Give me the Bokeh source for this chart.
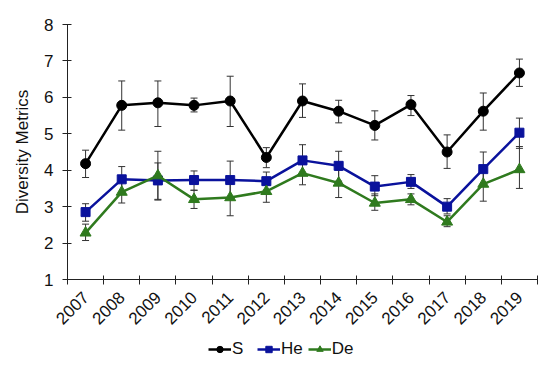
import numpy as np
from bokeh.plotting import figure
from bokeh.layouts import column
from bokeh.models import (ColumnDataSource, Whisker, TeeHead, FixedTicker, Legend,
                          LegendItem, Range1d)
from bokeh.embed import file_html
from bokeh.resources import INLINE

years = ["2007", "2008", "2009", "2010", "2011", "2012", "2013",
         "2014", "2015", "2016", "2017", "2018", "2019"]
s_vals = [4.18, 5.78, 5.85, 5.78, 5.90, 4.35, 5.90, 5.62, 5.23, 5.80, 4.50, 5.62, 6.67]
s_up = [4.55, 6.45, 6.45, 5.98, 6.58, 4.62, 6.37, 5.92, 5.63, 6.05, 4.97, 6.12, 7.05]
s_lo = [3.80, 5.10, 5.20, 5.60, 5.20, 4.07, 5.45, 5.30, 4.83, 5.50, 4.05, 5.10, 6.30]
he_vals = [2.85, 3.75, 3.72, 3.73, 3.73, 3.70, 4.27, 4.12, 3.55, 3.68, 3.00, 4.03, 5.03]
he_up = [3.08, 4.10, 4.20, 3.98, 4.25, 3.95, 4.70, 4.52, 3.85, 3.88, 3.22, 4.50, 5.43]
he_lo = [2.60, 3.40, 3.20, 3.45, 3.20, 3.45, 3.90, 3.70, 3.30, 3.50, 2.80, 3.60, 4.60]
de_vals = [2.28, 3.40, 3.85, 3.20, 3.25, 3.42, 3.92, 3.65, 3.10, 3.20, 2.58, 3.62, 4.02]
de_up = [2.52, 3.70, 4.52, 3.45, 3.70, 3.70, 4.20, 4.00, 3.35, 3.35, 2.75, 4.10, 4.65]
de_lo = [2.07, 3.10, 3.18, 2.95, 2.75, 3.12, 3.60, 3.25, 2.90, 3.05, 2.45, 3.15, 3.50]
y_ticks = [1, 2, 3, 4, 5, 6, 7, 8]

xs = [i + 0.5 for i in range(len(years))]

FONT = "Liberation Sans"

p = figure(frame_width=470, frame_height=255, output_backend="svg", toolbar_location=None,
           x_range=Range1d(0, len(years)), y_range=Range1d(1, 8),
           min_border_left=67, min_border_right=13, min_border_top=24, min_border_bottom=0)
p.outline_line_color = None
p.grid.grid_line_color = None
p.background_fill_color = "white"

# x axis: labels at category centers, ticks at boundaries
p.xaxis.ticker = FixedTicker(ticks=xs, minor_ticks=list(range(len(years) + 1)))
p.xaxis.major_label_overrides = {x: y for x, y in zip(xs, years)}
p.xaxis.major_tick_in = 0
p.xaxis.major_tick_out = 0
p.xaxis.minor_tick_in = 4
p.xaxis.minor_tick_out = 5
p.xaxis.minor_tick_line_color = "#222222"
p.xaxis.major_label_orientation = np.pi / 4
p.xaxis.major_label_standoff = 10

p.yaxis.ticker = FixedTicker(ticks=y_ticks)
p.yaxis.major_tick_in = 4
p.yaxis.major_tick_out = 5
p.yaxis.minor_tick_line_color = None
p.yaxis.major_label_standoff = 9
p.yaxis.axis_label = "Diversity Metrics"
p.yaxis.axis_label_text_font_style = "normal"
p.yaxis.axis_label_standoff = 9

for ax in (p.xaxis, p.yaxis):
    ax.axis_line_color = "#222222"
    ax.major_label_text_font = FONT
    ax.major_label_text_font_size = "17px"
    ax.major_label_text_color = "#111111"
    ax.axis_label_text_font = FONT
    ax.axis_label_text_font_size = "17px"
    ax.axis_label_text_color = "#111111"
p.xaxis.major_tick_line_color = None
p.yaxis.major_tick_line_color = "#222222"

series = [
    ("S", s_vals, s_up, s_lo, "#000000", "circle", 10),
    ("He", he_vals, he_up, he_lo, "#0a129c", "square", 9),
    ("De", de_vals, de_up, de_lo, "#2f7a1e", "triangle", 11),
]

for name, vals, up, lo, color, marker, size in series:
    src = ColumnDataSource(dict(x=xs, y=vals, upper=up, lower=lo))
    w = Whisker(base="x", upper="upper", lower="lower", source=src,
                line_color="#333333", line_width=1,
                upper_head=TeeHead(size=7, line_color="#333333", line_width=1),
                lower_head=TeeHead(size=7, line_color="#333333", line_width=1))
    p.add_layout(w)

for name, vals, up, lo, color, marker, size in series:
    src = ColumnDataSource(dict(x=xs, y=vals))
    p.line("x", "y", source=src, line_color=color, line_width=2.5)
    p.scatter("x", "y", source=src, marker=marker, size=size,
              fill_color=color, line_color=color)

# legend in a small strip below the chart (its renderers reuse the series values,
# drawn outside the strip's visible range so only the legend shows)
lg = figure(width=550, height=30, output_backend="svg", toolbar_location=None,
            min_border=0, x_range=Range1d(100, 101), y_range=Range1d(100, 101))
lg.axis.visible = False
lg.grid.grid_line_color = None
lg.outline_line_color = None
items = []
for name, vals, up, lo, color, marker, size in series:
    src = ColumnDataSource(dict(x=xs, y=vals))
    l = lg.line("x", "y", source=src, line_color=color, line_width=2.5)
    m = lg.scatter("x", "y", source=src, marker=marker, size=size - 2,
                   fill_color=color, line_color=color)
    items.append(LegendItem(label=name, renderers=[l, m]))
legend = Legend(items=items, orientation="horizontal", location=(141, 3),
                label_text_font=FONT, label_text_font_size="17px",
                label_text_color="#111111", glyph_width=23, glyph_height=16,
                spacing=5, label_standoff=1, padding=0, margin=0,
                border_line_color=None, background_fill_alpha=0)
lg.add_layout(legend, "center")

open("out.html", "w").write(file_html(column(p, lg, spacing=0), INLINE))
